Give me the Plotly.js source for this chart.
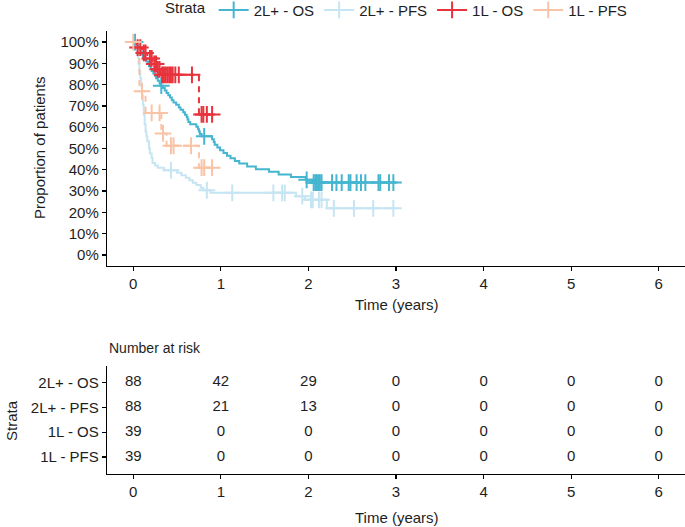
<!DOCTYPE html>
<html>
<head>
<meta charset="utf-8">
<script src="https://cdn.plot.ly/plotly-3.0.1.min.js"></script>
<style>html,body{margin:0;padding:0;background:#fff;}#chart{width:685px;height:527px;}</style>
</head>
<body>
<div id="chart"></div>
<script>
// ---------- data ----------
const strata = ["2L+ - OS", "2L+ - PFS", "1L - OS", "1L - PFS"];
const colors = ["#45b5d0", "#c6e5f2", "#e8333d", "#f9c3a6"];

// 2L+ - OS step curve
const os2Time = [0,0.03,0.05,0.07,0.08,0.10,0.11,0.13,0.15,0.17,0.18,0.20,0.21,0.23,0.25,0.26,0.28,0.30,0.31,0.34,0.36,0.38,0.40,0.42,0.44,0.46,0.49,0.52,0.54,0.57,0.59,0.61,0.62,0.63,0.65,0.72,0.74,0.75,0.76,0.78,0.90,0.92,0.93,0.96,0.99,1.03,1.07,1.11,1.16,1.21,1.30,1.40,1.55,1.66,1.80,1.97,2.05];
const os2Surv = [100,98.9,97.7,96.6,95.5,94.3,93.2,92.0,90.9,89.8,88.6,87.5,86.4,85.2,84.1,83.0,81.8,80.7,79.5,78.4,77.3,76.1,75.0,73.9,72.7,71.6,70.5,69.3,68.2,67.0,65.9,64.8,63.6,62.5,61.4,60.2,59.1,58.0,56.8,55.7,54.4,53.1,51.8,50.5,49.2,47.9,46.6,45.4,44.1,42.9,41.6,40.3,39.1,37.8,36.6,35.3,34.0];
const os2End = 3.0;
const os2Cens = [0.02,0.32,0.81,1.98,2.06,2.08,2.09,2.11,2.13,2.15,2.27,2.32,2.38,2.46,2.48,2.55,2.60,2.65,2.80,2.82,2.92,2.97];

// 2L+ - PFS step curve
const pfs2Time = [0,0.02,0.03,0.04,0.05,0.06,0.07,0.08,0.09,0.10,0.11,0.12,0.13,0.14,0.15,0.16,0.18,0.19,0.21,0.22,0.25,0.28,0.35,0.50,0.55,0.60,0.64,0.68,0.72,0.77,0.80,0.88,1.86,1.96,2.21];
const pfs2Surv = [100,98.9,97.7,95.5,93.2,89.8,86.4,83.0,79.5,75.0,70.5,65.9,61.4,58.0,55.7,53.4,50.0,47.7,45.5,43.2,42.0,40.9,39.8,38.6,37.4,36.3,35.1,33.9,32.8,31.6,30.4,29.2,27.6,25.9,21.9];
const pfs2End = 3.0;
const pfs2Cens = [0.43,0.84,1.13,1.60,1.70,1.73,1.93,2.03,2.05,2.12,2.15,2.29,2.52,2.74,2.97];

// 1L - OS step curve
const os1Time = [0,0.03,0.10,0.16,0.22,0.27,0.31,0.75];
const os1Surv = [100,97.4,94.9,92.3,89.7,87.2,84.6,66.0];
const os1End = 0.90;
const os1Cens = [0.05,0.08,0.12,0.14,0.19,0.21,0.24,0.26,0.28,0.30,0.33,0.35,0.37,0.39,0.41,0.43,0.45,0.48,0.52,0.67,0.78,0.80,0.84,0.90];

// 1L - PFS step curve
const pfs1Time = [0,0.07,0.14,0.32,0.38,0.75];
const pfs1Surv = [100,76.9,66.7,57.1,51.3,41.0];
const pfs1End = 0.90;
const pfs1Cens = [0.0,0.10,0.21,0.30,0.34,0.43,0.46,0.66,0.78,0.81,0.90];

// number at risk table
const riskTimes = [0,1,2,3,4,5,6];
const riskOS2 = [88,42,29,0,0,0,0];
const riskPFS2 = [88,21,13,0,0,0,0];
const riskOS1 = [39,0,0,0,0,0,0];
const riskPFS1 = [39,0,0,0,0,0,0];

const yTicks = [0,10,20,30,40,50,60,70,80,90,100];
const xTicks = [0,1,2,3,4,5,6];

// ---------- build ----------
const curves = [
  {t: os2Time, s: os2Surv, end: os2End, c: os2Cens, dash: "solid"},
  {t: pfs2Time, s: pfs2Surv, end: pfs2End, c: pfs2Cens, dash: "solid"},
  {t: os1Time, s: os1Surv, end: os1End, c: os1Cens, dash: "6px,5px"},
  {t: pfs1Time, s: pfs1Surv, end: pfs1End, c: pfs1Cens, dash: "6px,5px"}
];
const risks = [riskOS2, riskPFS2, riskOS1, riskPFS1];

function survAt(ts, ss, t) {
  let v = ss[0];
  for (let i = 0; i < ts.length; i++) if (ts[i] <= t) v = ss[i];
  return v;
}

const FONT = "Liberation Sans, Arial, sans-serif";
const TXT = "#1e1e1e";
const traces = [];
curves.forEach((cv, i) => {
  traces.push({
    x: cv.t.concat([cv.end]), y: cv.s.concat([cv.s[cv.s.length - 1]]),
    mode: "lines", line: {shape: "hv", color: colors[i], width: 2, dash: cv.dash},
    showlegend: false, hoverinfo: "skip", xaxis: "x", yaxis: "y"
  });
});
curves.forEach((cv, i) => {
  traces.push({
    x: cv.c, y: cv.c.map(t => survAt(cv.t, cv.s, t)),
    mode: "markers",
    marker: {symbol: "cross-thin", size: 12, line: {color: colors[i], width: 2}},
    showlegend: false, hoverinfo: "skip", xaxis: "x", yaxis: "y"
  });
});
strata.forEach((name, i) => {
  traces.push({
    x: [null], y: [null], name: name, mode: "lines+markers",
    line: {color: colors[i], width: 2},
    marker: {symbol: "cross-thin", size: 12, line: {color: colors[i], width: 2}},
    xaxis: "x", yaxis: "y"
  });
});
strata.forEach((name, i) => {
  traces.push({
    x: riskTimes, y: riskTimes.map(() => i), text: risks[i].map(String),
    mode: "text", textfont: {family: FONT, size: 15, color: TXT},
    showlegend: false, hoverinfo: "skip", xaxis: "x2", yaxis: "y2"
  });
});

const H = 527, L = 107, W = 578;
const px = (x) => (x - L) / W;
const py = (y) => 1 - y / H;

const axisCommon = {
  showline: true, linecolor: "#000", linewidth: 1.2, ticks: "outside", ticklen: 4,
  tickcolor: "#000", tickwidth: 1.2, showgrid: false, zeroline: false,
  tickfont: {family: FONT, size: 15, color: TXT}
};

function ann(text, x, y, extra) {
  return Object.assign({text: text, x: px(x), y: py(y), xref: "paper", yref: "paper",
    xanchor: "center", yanchor: "middle", showarrow: false,
    font: {family: FONT, size: 15, color: TXT}}, extra || {});
}

const layout = {
  width: 685, height: 527,
  margin: {l: L, r: 0, t: 0, b: 0, autoexpand: false},
  paper_bgcolor: "#fff", plot_bgcolor: "#fff",
  font: {family: FONT, color: TXT},
  showlegend: true,
  legend: {
    orientation: "h", x: px(163), xanchor: "left", y: 1.012, yanchor: "top",
    title: {text: "Strata", side: "left", font: {family: FONT, size: 15, color: TXT}},
    font: {family: FONT, size: 15, color: TXT}, bgcolor: "rgba(0,0,0,0)", itemwidth: 30
  },
  xaxis: Object.assign({}, axisCommon, {domain: [0, 1], range: [-0.3, 6.3], tickvals: xTicks, anchor: "y"}),
  yaxis: Object.assign({}, axisCommon, {domain: [py(265.6), py(31.4)], range: [-5, 105], tickvals: yTicks, ticktext: yTicks.map(v => v + "%"), anchor: "x"}),
  xaxis2: Object.assign({}, axisCommon, {domain: [0, 1], range: [-0.3, 6.3], tickvals: xTicks, anchor: "y2"}),
  yaxis2: Object.assign({}, axisCommon, {domain: [py(474), py(366)], range: [3.68, -0.66], tickvals: [0,1,2,3], ticktext: strata, anchor: "x2"}),
  annotations: [
    ann("Proportion of patients", 40, 148, {textangle: -90}),
    ann("Time (years)", 397, 304),
    ann("Number at risk", 107, 348, {xanchor: "left", font: {family: FONT, size: 14, color: TXT}}),
    ann("Strata", 11, 421, {textangle: -90}),
    ann("Time (years)", 397, 517)
  ]
};

Plotly.newPlot("chart", traces, layout, {displayModeBar: false, staticPlot: true});
</script>
</body>
</html>
